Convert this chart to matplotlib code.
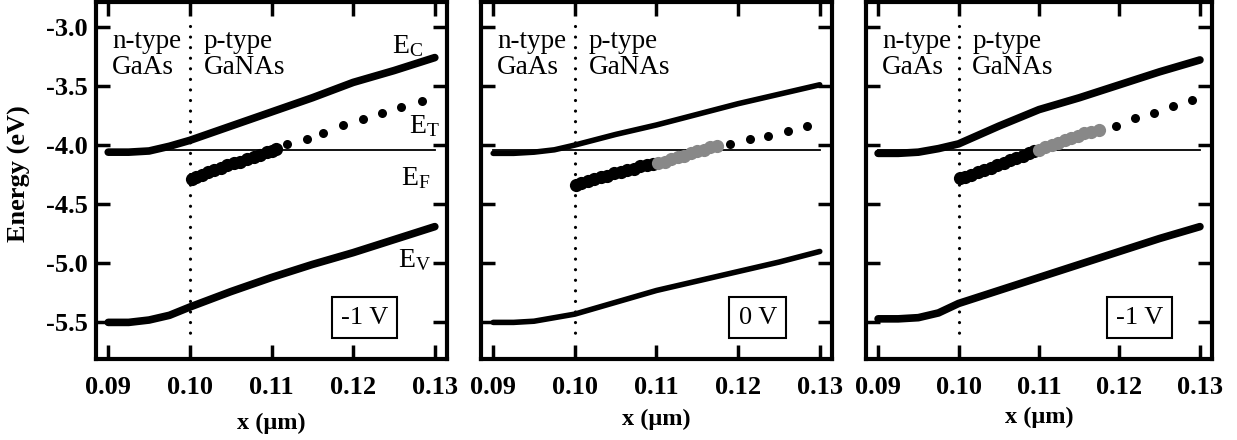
import matplotlib
matplotlib.use("Agg")
import matplotlib.pyplot as plt

plt.rcParams['font.family'] = ['Liberation Serif', 'DejaVu Serif']
plt.rcParams['mathtext.default'] = 'regular'

# band edges (x in um, energy in eV)
band_x = [0.090, 0.0925, 0.095, 0.0975, 0.100, 0.105, 0.110, 0.115,
          0.120, 0.125, 0.130]

ec_m1 = [-4.06, -4.06, -4.05, -4.01, -3.96, -3.84, -3.72, -3.60, -3.47, -3.37, -3.26]
ev_m1 = [-5.50, -5.50, -5.48, -5.44, -5.37, -5.24, -5.12, -5.01, -4.91, -4.80, -4.69]
ec_0 = [-4.07, -4.07, -4.06, -4.04, -4.00, -3.91, -3.83, -3.74, -3.65, -3.57, -3.49]
ev_0 = [-5.50, -5.50, -5.49, -5.46, -5.43, -5.33, -5.23, -5.15, -5.07, -4.99, -4.90]
ec_m1b = [-4.07, -4.07, -4.06, -4.03, -3.99, -3.84, -3.70, -3.60, -3.49, -3.38, -3.28]
ev_m1b = [-5.47, -5.47, -5.46, -5.42, -5.34, -5.23, -5.12, -5.01, -4.90, -4.79, -4.69]

ef_x = [0.090, 0.130]
ef = [-4.04, -4.04]

# trap level: dense part (black), grey part, sparse part
et1_x = [0.1002, 0.1008, 0.1015, 0.1022, 0.1030, 0.1038, 0.1046, 0.1054,
         0.1062, 0.1070, 0.1078, 0.1086, 0.1094, 0.1100, 0.1106]
et1_y = [-4.29, -4.27, -4.25, -4.23, -4.21, -4.19, -4.17, -4.15,
         -4.14, -4.12, -4.10, -4.08, -4.06, -4.05, -4.03]
et1_sx = [0.1119, 0.1143, 0.1163, 0.1188, 0.1212, 0.1235, 0.1259, 0.1284]
et1_sy = [-3.99, -3.95, -3.90, -3.83, -3.78, -3.73, -3.68, -3.63]

et2_x = [0.1002, 0.1008, 0.1016, 0.1024, 0.1032, 0.1040, 0.1048, 0.1056,
         0.1064, 0.1072, 0.1080, 0.1088, 0.1096]
et2_y = [-4.34, -4.32, -4.30, -4.29, -4.27, -4.26, -4.24, -4.23,
         -4.21, -4.20, -4.18, -4.17, -4.16]
et2_gx = [0.1102, 0.1110, 0.1118, 0.1126, 0.1134, 0.1142, 0.1150, 0.1158,
          0.1166, 0.1174]
et2_gy = [-4.15, -4.14, -4.12, -4.10, -4.09, -4.07, -4.05, -4.04,
          -4.02, -4.01]
et2_sx = [0.1190, 0.1214, 0.1237, 0.1261, 0.1284]
et2_sy = [-3.99, -3.95, -3.92, -3.88, -3.84]

et3_x = [0.1002, 0.1008, 0.1016, 0.1024, 0.1032, 0.1040, 0.1048, 0.1056,
         0.1064, 0.1072, 0.1080, 0.1088, 0.1094]
et3_y = [-4.28, -4.27, -4.25, -4.23, -4.21, -4.19, -4.17, -4.15,
         -4.13, -4.11, -4.09, -4.07, -4.05]
et3_gx = [0.1100, 0.1108, 0.1116, 0.1124, 0.1132, 0.1140, 0.1148, 0.1156,
          0.1164, 0.1174]
et3_gy = [-4.04, -4.02, -4.00, -3.98, -3.96, -3.94, -3.92, -3.90,
          -3.89, -3.87]
et3_sx = [0.1196, 0.1219, 0.1243, 0.1267, 0.1290]
et3_sy = [-3.84, -3.77, -3.73, -3.67, -3.62]

panels = [
    (ec_m1, ev_m1, et1_x, et1_y, [], [], et1_sx, et1_sy, '-1 V', 0.1214, 5.5),
    (ec_0, ev_0, et2_x, et2_y, et2_gx, et2_gy, et2_sx, et2_sy, '0 V', 0.1224, 4.0),
    (ec_m1b, ev_m1b, et3_x, et3_y, et3_gx, et3_gy, et3_sx, et3_sy, '-1 V', 0.1225, 5.5),
]

fig = plt.figure(figsize=(12.37, 4.40), dpi=100)
lefts = [0.0776, 0.3888, 0.7001]
widths = [0.2838, 0.2838, 0.2797]
xpads = [10, 7, 6]

for i, (ec, ev, tx, ty, gx, gy, sx, sy, vlab, bx, lw) in enumerate(panels):
    ax = fig.add_axes([lefts[i], 0.184, widths[i], 0.8114])
    ax.plot(band_x, ec, color='black', lw=lw, solid_capstyle='round')
    ax.plot(band_x, ev, color='black', lw=lw, solid_capstyle='round')
    ax.plot(ef_x, ef, color='black', lw=1.3)
    ax.plot([0.100, 0.100], [-2.99, -5.64], color='black', lw=2.3,
            linestyle=(0, (0.01, 3.3)), dash_capstyle='round')
    ax.plot(tx, ty, 'o', color='black', ms=9.5, mec='none')
    if gx:
        ax.plot(gx, gy, 'o', color='#888888', ms=9.5, mec='none')
    ax.plot(sx, sy, 'o', color='black', ms=6.5, mec='none')

    ax.text(0.0905, -3.02, 'n-type\nGaAs', fontsize=19.5, va='top', ha='left',
            linespacing=1.05)
    ax.text(0.1017, -3.02, 'p-type\nGaNAs', fontsize=19.5, va='top', ha='left',
            linespacing=1.05)
    ax.text(bx, -5.46, vlab, fontsize=19, ha='center', va='center',
            bbox=dict(boxstyle='square,pad=0.35', fc='white', ec='black', lw=1.5))

    if i == 0:
        ax.text(0.1247, -3.22, '$E_C$', fontsize=20)
        ax.text(0.1269, -3.90, '$E_T$', fontsize=20)
        ax.text(0.1258, -4.34, '$E_F$', fontsize=20)
        ax.text(0.1255, -5.03, '$E_V$', fontsize=20)
        ax.set_ylabel('Energy (eV)', fontsize=19, fontweight='bold')
        ax.yaxis.set_label_coords(-0.185, 0.52)
    ax.set_xlabel('x (μm)', fontsize=17.5, fontweight='bold', labelpad=xpads[i])

    ax.set_xlim(0.0885, 0.1315)
    ax.set_ylim(-5.81, -2.79)
    ax.set_xticks([0.09, 0.10, 0.11, 0.12, 0.13])
    ax.set_xticklabels(['0.09', '0.10', '0.11', '0.12', '0.13'])
    ax.set_yticks([-3.0, -3.5, -4.0, -4.5, -5.0, -5.5])
    if i == 0:
        ax.set_yticklabels(['-3.0', '-3.5', '-4.0', '-4.5', '-5.0', '-5.5'])
    else:
        ax.set_yticklabels([])
    ax.tick_params(direction='in', length=10, width=2.5, top=True, right=True,
                   labelsize=19)
    ax.tick_params(axis='x', pad=12)
    ax.tick_params(axis='y', pad=6)
    for lab in ax.get_xticklabels() + ax.get_yticklabels():
        lab.set_fontweight('bold')
    for sp in ax.spines.values():
        sp.set_linewidth(3)

fig.savefig('out.png', dpi=100)
